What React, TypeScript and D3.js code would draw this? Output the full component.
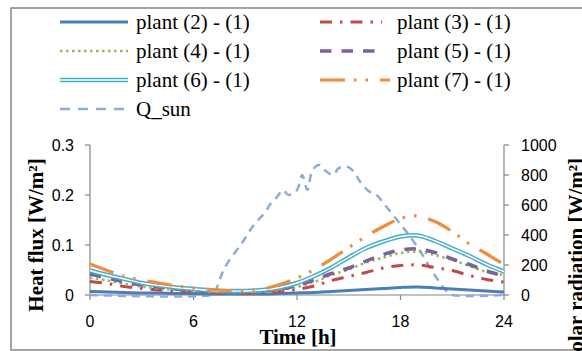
import * as d3 from "d3";
import React from "react";

// hourly values, 0..24 h
const hours = d3.range(0, 25);

const plant2 = [0.007, 0.006, 0.005, 0.004, 0.004, 0.003, 0.003, 0.002, 0.002, 0.002, 0.002, 0.003, 0.004, 0.005, 0.007, 0.009, 0.011, 0.013, 0.015, 0.016, 0.014, 0.012, 0.010, 0.008, 0.006];
const plant3 = [0.027, 0.023, 0.017, 0.013, 0.010, 0.008, 0.006, 0.004, 0.003, 0.003, 0.004, 0.007, 0.011, 0.018, 0.029, 0.037, 0.045, 0.054, 0.059, 0.060, 0.055, 0.049, 0.039, 0.031, 0.026];
const plant4 = [0.035, 0.029, 0.022, 0.017, 0.013, 0.010, 0.008, 0.006, 0.005, 0.005, 0.007, 0.010, 0.016, 0.026, 0.040, 0.051, 0.065, 0.075, 0.084, 0.087, 0.080, 0.070, 0.058, 0.046, 0.040];
const plant5 = [0.042, 0.034, 0.026, 0.020, 0.016, 0.012, 0.009, 0.007, 0.006, 0.006, 0.008, 0.012, 0.019, 0.030, 0.043, 0.054, 0.068, 0.081, 0.090, 0.092, 0.085, 0.072, 0.061, 0.048, 0.038];
const plant6 = [0.049, 0.040, 0.032, 0.024, 0.019, 0.015, 0.012, 0.009, 0.008, 0.008, 0.010, 0.015, 0.024, 0.038, 0.055, 0.075, 0.094, 0.107, 0.117, 0.119, 0.108, 0.093, 0.078, 0.061, 0.047];
const plant7 = [0.062, 0.049, 0.037, 0.030, 0.024, 0.018, 0.014, 0.011, 0.009, 0.009, 0.012, 0.021, 0.034, 0.051, 0.072, 0.095, 0.117, 0.137, 0.153, 0.158, 0.147, 0.127, 0.102, 0.082, 0.061];

// solar radiation, irregular time steps
const sunHours = [0, 7, 7.2, 7.8, 8.8, 9.5, 10.1, 10.5, 10.8, 11.2, 11.5, 12.0, 12.3, 12.6, 12.9, 13.3, 13.6, 14.1, 14.4, 14.9, 15.3, 15.65, 16.2, 16.5, 17.1, 17.8, 18.4, 19.1, 19.5, 20.1, 20.7, 21, 24];
const sunValues = [0, 0, 15, 180, 345, 467, 544, 613, 647, 700, 667, 700, 800, 700, 833, 867, 833, 800, 844, 856, 822, 756, 689, 678, 600, 500, 413, 300, 222, 113, 22, 0, 0];

const xTicks = [0, 6, 12, 18, 24];
const leftTicks = [0, 0.1, 0.2, 0.3];
const rightTicks = [0, 200, 400, 600, 800, 1000];

const W = 582;
const H = 351;
const plot = { left: 90, right: 504, top: 145, bottom: 295 };

const series = [
  { name: "plant (2) - (1)", values: plant2, color: "#4A7EBB", width: 3, dash: "", col: 0, row: 0 },
  { name: "plant (3) - (1)", values: plant3, color: "#BE4B48", width: 3, dash: "12,8,2.5,8", col: 1, row: 0 },
  { name: "plant (4) - (1)", values: plant4, color: "#98B954", width: 2.6, dash: "2.5,3.5", col: 0, row: 1 },
  { name: "plant (5) - (1)", values: plant5, color: "#7D60A0", width: 3.5, dash: "11.5,10", col: 1, row: 1 },
  { name: "plant (6) - (1)", values: plant6, color: "#4BACC6", width: 4.5, dash: "", col: 0, row: 2, double: true },
  { name: "plant (7) - (1)", values: plant7, color: "#F38A3C", width: 3.2, dash: "25,9,2.5,9,2.5,12", col: 1, row: 2 },
];

const sunColor = "#8EAADB";
const axisColor = "#868686";
const tickFont = "'Liberation Sans', Arial, sans-serif";
const serif = "'Liberation Serif', 'Times New Roman', serif";

export default function App() {
  const x = d3.scaleLinear().domain([0, 24]).range([plot.left, plot.right]);
  const yL = d3.scaleLinear().domain([0, 0.3]).range([plot.bottom, plot.top]);
  const yR = d3.scaleLinear().domain([0, 1000]).range([plot.bottom, plot.top]);

  const plantLine = d3
    .line<number>()
    .curve(d3.curveCatmullRom.alpha(0.5))
    .x((_, i) => x(hours[i]))
    .y((d) => yL(d));

  const sunLine = d3
    .line<number>()
    .curve(d3.curveCatmullRom.alpha(0.5))
    .x((_, i) => x(sunHours[i]))
    .y((d) => yR(d));

  const legendX = [60, 320];
  const legendY = [22, 51, 80, 109];

  return (
    <svg
      width={W}
      height={H}
      viewBox={`0 0 ${W} ${H}`}
      style={{ position: "absolute", left: 0, top: 0, background: "#fff" }}
    >
      <rect x={0} y={0} width={W} height={H} fill="#fff" />
      {/* chart border, cut on the right */}
      <rect x={11} y={8} width={620} height={342} fill="none" stroke={axisColor} strokeWidth={1.5} />

      {/* legend */}
      {series.map((s) => {
        const lx = legendX[s.col];
        const ly = legendY[s.row];
        const len = s.col === 1 && s.row === 2 ? 70 : s.col === 1 ? 62 : 68;
        return (
          <g key={s.name}>
            <line
              x1={lx}
              x2={lx + len}
              y1={ly}
              y2={ly}
              stroke={s.color}
              strokeWidth={s.width}
              strokeDasharray={s.dash || undefined}
            />
            {s.double && (
              <line x1={lx} x2={lx + len} y1={ly} y2={ly} stroke="#fff" strokeWidth={1.4} />
            )}
            <text x={s.col === 0 ? 136 : 397} y={ly + 7} fontFamily={serif} fontSize={21} fill="#000">
              {s.name}
            </text>
          </g>
        );
      })}
      <line
        x1={legendX[0]}
        x2={legendX[0] + 68}
        y1={legendY[3]}
        y2={legendY[3]}
        stroke={sunColor}
        strokeWidth={2.5}
        strokeDasharray="10,8"
      />
      <text x={136} y={legendY[3] + 7} fontFamily={serif} fontSize={21} fill="#000">
        Q_sun
      </text>

      {/* axes */}
      <g stroke={axisColor} strokeWidth={1.2}>
        <line x1={plot.left} x2={plot.left} y1={plot.top} y2={plot.bottom} />
        <line x1={plot.right} x2={plot.right} y1={plot.top} y2={plot.bottom} />
        <line x1={plot.left} x2={plot.right} y1={plot.bottom} y2={plot.bottom} />
        {leftTicks.map((t) => (
          <line key={"l" + t} x1={plot.left - 5} x2={plot.left} y1={yL(t)} y2={yL(t)} />
        ))}
        {rightTicks.map((t) => (
          <line key={"r" + t} x1={plot.right} x2={plot.right + 5} y1={yR(t)} y2={yR(t)} />
        ))}
        {xTicks.map((t) => (
          <line key={"x" + t} x1={x(t)} x2={x(t)} y1={plot.bottom} y2={plot.bottom + 5} />
        ))}
      </g>

      {/* tick labels */}
      <g fontFamily={tickFont} fontSize={16} fill="#000">
        {leftTicks.map((t) => (
          <text key={"lt" + t} x={74} y={yL(t) + 6} textAnchor="end">
            {t === 0 ? "0" : t.toFixed(1)}
          </text>
        ))}
        {rightTicks.map((t) => (
          <text key={"rt" + t} x={521} y={yR(t) + 6} textAnchor="start">
            {t}
          </text>
        ))}
        {xTicks.map((t) => (
          <text key={"xt" + t} x={x(t)} y={327} textAnchor="middle">
            {t}
          </text>
        ))}
      </g>

      {/* axis titles */}
      <text x={298} y={344} textAnchor="middle" fontFamily={serif} fontWeight="bold" fontSize={21}>
        Time [h]
      </text>
      <text
        transform={`translate(43,235) rotate(-90)`}
        textAnchor="middle"
        fontFamily={serif}
        fontWeight="bold"
        fontSize={21}
      >
        Heat flux [W/m²]
      </text>
      <text
        transform={`translate(583,158) rotate(-90)`}
        textAnchor="end"
        fontFamily={serif}
        fontWeight="bold"
        fontSize={21}
      >
        Solar radiation [W/m²]
      </text>

      {/* series */}
      <path d={sunLine(sunValues) || ""} fill="none" stroke={sunColor} strokeWidth={2.5} strokeDasharray="8,6" />
      {series.map((s) => (
        <g key={"p" + s.name}>
          <path
            d={plantLine(s.values) || ""}
            fill="none"
            stroke={s.color}
            strokeWidth={s.width}
            strokeDasharray={s.dash || undefined}
          />
          {s.double && (
            <path d={plantLine(s.values) || ""} fill="none" stroke="#fff" strokeWidth={1.4} />
          )}
        </g>
      ))}
    </svg>
  );
}
